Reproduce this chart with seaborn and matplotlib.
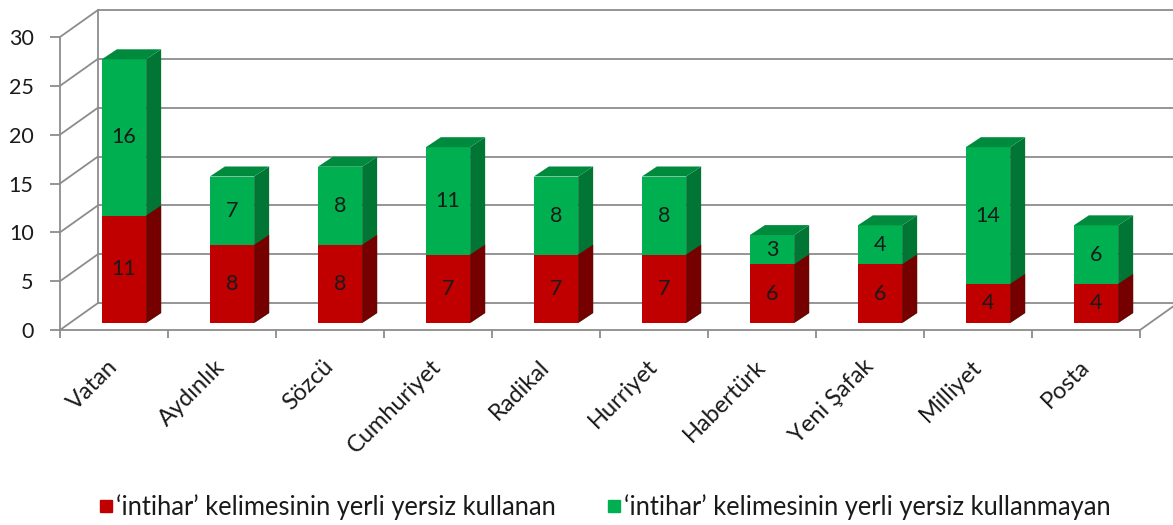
import numpy as np
import pandas as pd
import matplotlib
matplotlib.use("Agg")
import matplotlib.pyplot as plt
import seaborn as sns
from matplotlib.patches import Polygon
from matplotlib.lines import Line2D

# ---------------- data ----------------
categories = ["Vatan", "Aydınlık", "Sözcü", "Cumhuriyet", "Radikal",
              "Hurriyet", "Habertürk", "Yeni Şafak", "Milliyet", "Posta"]
used = [11, 8, 8, 7, 7, 7, 6, 6, 4, 4]
not_used = [16, 7, 8, 11, 8, 8, 3, 4, 14, 6]
series_names = ["‘intihar’ kelimesinin yerli yersiz kullanan",
                "‘intihar’ kelimesinin yerli yersiz kullanmayan"]
y_ticks = [0, 5, 10, 15, 20, 25, 30]

# ---------------- style ----------------
sns.set_theme(style="white")
plt.rcParams["font.family"] = ["Lato", "DejaVu Sans"]

RED, RED_SIDE = "#C00000", "#760000"
GREEN, GREEN_SIDE, GREEN_TOP = "#00B050", "#007534", "#008A3E"
GRID = "#8C8C8C"
TXT = "#1a1a1a"

W, H = 1173, 525
fig = plt.figure(figsize=(W / 100, H / 100), dpi=100)

# front frame (axis, ticks, labels)
fl, fb, fw, fh = 60, 330, 1080, 293          # left px, bottom px (from top), width, height
axF = fig.add_axes([fl / W, (H - fb) / H, fw / W, fh / H])
# bar plane (slightly deeper in the 3D box)
axB = fig.add_axes([(fl + 10) / W, (H - fb + 7) / H, fw / W, fh / H])

n = len(categories)
axF.set_xlim(0, n)
axF.set_ylim(0, y_ticks[-1])
axF.set_facecolor("none")
for s in ["top", "right"]:
    axF.spines[s].set_visible(False)
for s in ["left", "bottom"]:
    axF.spines[s].set_color(GRID)
    axF.spines[s].set_linewidth(1.3)

axF.set_yticks(y_ticks)
axF.set_yticklabels([str(v) for v in y_ticks], fontsize=15.5, color=TXT)
axF.tick_params(axis="y", direction="out", length=7, width=1.3, color=GRID, pad=12, left=True)
axF.set_xticks(np.arange(n) + 0.5)
axF.set_xticklabels(categories, fontsize=17, color=TXT, rotation=45,
                    ha="right", va="center", rotation_mode="anchor")
axF.set_xticks(np.arange(n + 1), minor=True)
axF.tick_params(axis="x", which="major", length=0, pad=24)
axF.tick_params(axis="x", which="minor", direction="out", length=6, width=1.3,
                color=GRID, bottom=True)

# back wall offset (pixels)
BDX, BDY = 38, 27
ppx = fw / n
ppy = fh / y_ticks[-1]
bx, by = BDX / ppx, BDY / ppy
lw = 1.3
for v in y_ticks:
    axF.plot([bx, n + bx + 1], [v + by, v + by], color=GRID, lw=lw, clip_on=False, zorder=0)
    axF.plot([0, bx], [v, v + by], color=GRID, lw=lw, clip_on=False, zorder=0)
axF.plot([bx, bx], [by, y_ticks[-1] + by], color=GRID, lw=lw, clip_on=False, zorder=0)
axF.plot([n, n + bx], [0, by], color=GRID, lw=lw, clip_on=False, zorder=0)

# ---------------- bars ----------------
totals = [a + b for a, b in zip(used, not_used)]
df = pd.DataFrame({"Gazete": categories, "total": totals, "used": used})
sns.barplot(data=df, x="Gazete", y="total", color=GREEN, saturation=1, width=0.41,
            ax=axB, edgecolor="none", linewidth=0)
sns.barplot(data=df, x="Gazete", y="used", color=RED, saturation=1, width=0.41,
            ax=axB, edgecolor="none", linewidth=0)
axB.set_xlim(-0.5, n - 0.5)
axB.set_ylim(0, y_ticks[-1])
axB.set_axis_off()
axB.patch.set_alpha(0)

ddx, ddy = 15 / ppx, 10 / ppy
patches = list(axB.patches)
tot_p, used_p = patches[:n], patches[n:2 * n]
for p in tot_p:
    x, w, h = p.get_x(), p.get_width(), p.get_height()
    axB.add_patch(Polygon([(x + w, 0), (x + w, h), (x + w + ddx, h + ddy), (x + w + ddx, ddy)],
                          closed=True, facecolor=GREEN_SIDE, edgecolor="none", clip_on=False))
    axB.add_patch(Polygon([(x, h), (x + w, h), (x + w + ddx, h + ddy), (x + ddx, h + ddy)],
                          closed=True, facecolor=GREEN_TOP, edgecolor="none", clip_on=False))
for p in used_p:
    x, w, h = p.get_x(), p.get_width(), p.get_height()
    axB.add_patch(Polygon([(x + w, 0), (x + w, h), (x + w + ddx, h + ddy), (x + w + ddx, ddy)],
                          closed=True, facecolor=RED_SIDE, edgecolor="none", clip_on=False))

for i, (u, nu) in enumerate(zip(used, not_used)):
    axB.text(i, u / 2, str(u), ha="center", va="center", fontsize=15.5, color=TXT)
    axB.text(i, u + nu / 2, str(nu), ha="center", va="center", fontsize=15.5, color=TXT)

# ---------------- legend ----------------
handles = [Line2D([], [], marker="s", linestyle="none", markersize=8, color=RED),
           Line2D([], [], marker="s", linestyle="none", markersize=8, color=GREEN)]
fig.legend(handles, series_names, loc="center", bbox_to_anchor=(605 / W, 1 - 507 / H),
           ncol=2, frameon=False, fontsize=18.4, handlelength=0.5, handletextpad=0.15,
           columnspacing=2.0, labelcolor=TXT)

fig.savefig("out.png", dpi=100)
